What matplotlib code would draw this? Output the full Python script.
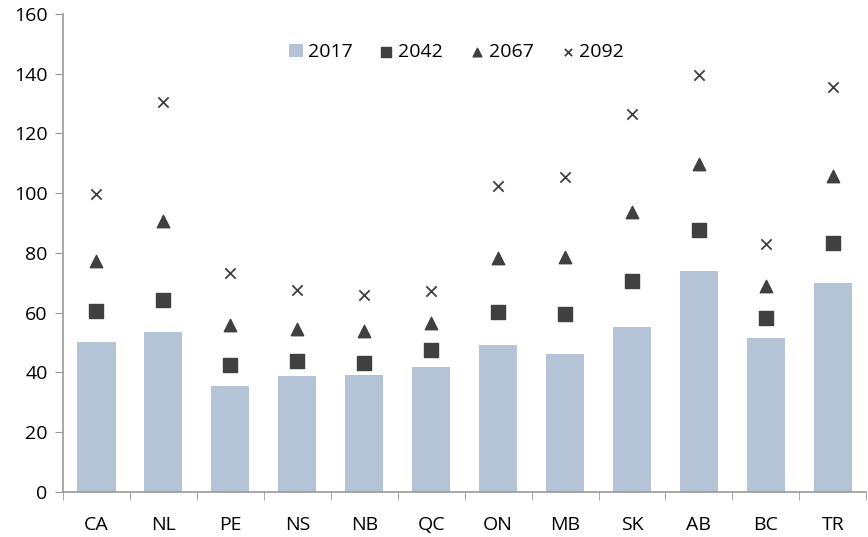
import matplotlib.pyplot as plt
import numpy as np

plt.rcParams['font.family'] = ['Open Sans', 'DejaVu Sans']

provinces = ['CA', 'NL', 'PE', 'NS', 'NB', 'QC', 'ON', 'MB', 'SK', 'AB', 'BC', 'TR']
v2017 = [50.2, 53.6, 35.5, 38.8, 39.2, 41.8, 49.2, 46.2, 55.2, 74.0, 51.5, 70.0]
v2042 = [60.6, 64.3, 42.5, 43.8, 43.2, 47.5, 60.3, 59.6, 70.6, 87.7, 58.2, 83.3]
v2067 = [77.3, 90.7, 55.9, 54.6, 53.9, 56.6, 78.3, 78.7, 93.7, 109.8, 69.0, 105.8]
v2092 = [99.7, 130.5, 73.3, 67.6, 65.9, 67.3, 102.4, 105.4, 126.5, 139.6, 83.0, 135.6]

fig = plt.figure(figsize=(8.68, 5.37), dpi=100)
ax = fig.add_axes([0.0726, 0.0838, 0.9254, 0.8902])

x = np.arange(len(provinces))
h1 = ax.bar(x, v2017, width=0.57, color='#b4c3d6', label='2017', zorder=1)
h2 = ax.scatter(x, v2042, marker='s', s=90, color='#404040', label='2042', zorder=3)
h3 = ax.scatter(x, v2067, marker='^', s=80, color='#404040', label='2067', zorder=3)
h4 = ax.scatter(x, v2092, marker='x', s=55, color='#404040', linewidths=1.3, label='2092', zorder=3)

ax.set_xlim(-0.5, len(provinces) - 0.5)
ax.set_ylim(0, 160)
ax.set_yticks(range(0, 161, 20))
ax.set_xticks(x)
ax.set_xticklabels(provinces)
ax.set_xticks(np.arange(-0.5, len(provinces), 1), minor=True)
ax.tick_params(axis='x', which='major', length=0, pad=17, labelsize=14)
ax.tick_params(axis='x', which='minor', length=6, color='#999999', direction='out')
ax.tick_params(axis='y', length=6, color='#999999', labelsize=14, pad=5)

for s in ['top', 'right']:
    ax.spines[s].set_visible(False)
for s in ['left', 'bottom']:
    ax.spines[s].set_color('#999999')
    ax.spines[s].set_linewidth(1.2)

leg = ax.legend([h1, h2, h3, h4], ['2017', '2042', '2067', '2092'],
                loc='upper center', bbox_to_anchor=(0.49, 0.975), ncol=4, frameon=False,
                fontsize=14, handlelength=0.7, handletextpad=0.25, columnspacing=1.4,
                markerscale=0.7)

fig.savefig('out.png', dpi=100)
